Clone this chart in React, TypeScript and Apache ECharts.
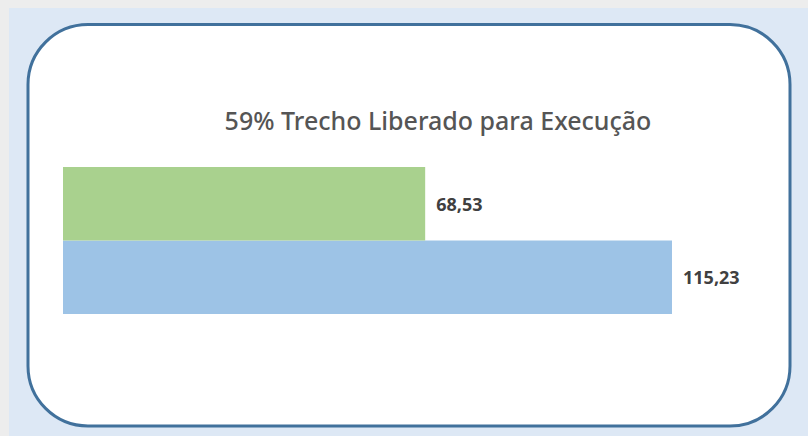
import React, { useEffect, useRef } from "react";
import * as echarts from "echarts";

const categories = ["Total", "Liberado"];
const values = [115.23, 68.53];
const barColors = ["#9dc3e6", "#a9d18e"];
const titleText = "59% Trecho Liberado para Execução";

export default function App() {
  const ref = useRef<HTMLDivElement>(null);
  useEffect(() => {
    document.body.style.margin = "0";
    const chart = echarts.init(ref.current!, null, { renderer: "svg" });
    chart.setOption({
      animation: false,
      backgroundColor: "#ededed",
      graphic: [
        { type: "rect", z: -10, shape: { x: 9, y: 8, width: 799, height: 428 }, style: { fill: "#dde8f5" } },
        {
          type: "rect",
          z: -5,
          shape: { x: 28, y: 24.5, width: 762, height: 401.5, r: 60 },
          style: { fill: "#ffffff", stroke: "#41719c", lineWidth: 3 },
        },
        {
          type: "text",
          z: 10,
          x: 438,
          y: 120,
          style: {
            text: titleText,
            align: "center",
            verticalAlign: "middle",
            fill: "#555555",
            font: "500 25px 'Noto Sans'",
          },
        },
      ],
      grid: { left: 63, top: 167, width: 634.2, height: 147 },
      xAxis: { type: "value", min: 0, max: 120, show: false },
      yAxis: { type: "category", data: categories, show: false },
      series: [
        {
          type: "bar",
          barCategoryGap: 0,
          data: values.map((v, i) => ({ value: v, itemStyle: { color: barColors[i] } })),
          label: {
            show: true,
            position: "right",
            distance: 11,
            formatter: (p: any) => p.value.toFixed(2).replace(".", ","),
            color: "#404040",
            fontWeight: "bold",
            fontSize: 18,
            fontFamily: "'Noto Sans'",
          },
        },
      ],
    });
    return () => chart.dispose();
  }, []);
  return <div ref={ref} style={{ position: "fixed", left: 0, top: 0, width: 808, height: 436 }} />;
}
